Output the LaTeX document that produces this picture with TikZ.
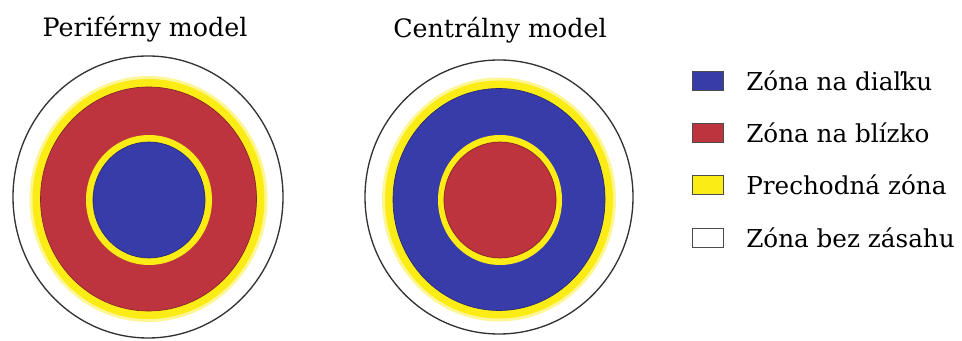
\documentclass[tikz,border=0pt]{standalone}
\usepackage{fontspec}
\setmainfont{DejaVu Serif}
\definecolor{zoneblue}{RGB}{56,60,168}
\definecolor{zonered}{RGB}{190,52,62}
\definecolor{zoneyellow}{RGB}{250,236,20}
\usetikzlibrary{positioning}
\tikzset{
  title/.style={anchor=base, inner sep=0pt, font=\fontsize{19}{21}\selectfont},
  legtext/.style={anchor=base west, inner sep=0pt, font=\fontsize{18.5}{20}\selectfont},
  legbox/.style={draw=black!70, line width=0.7pt, minimum width=23pt, minimum height=14pt, inner sep=0pt, anchor=south west},
  halo/.style={fill=zoneyellow!45},
  ring/.style={fill=zoneyellow},
  edge/.style={line width=0.5pt}
}
\begin{document}
\begin{tikzpicture}[x=0.75pt, y=-0.75pt]
  \useasboundingbox (0,0) rectangle (962,341);
  % Titles
  \node[title] (ptitle) at (145,37) {Periférny model};
  \node[title] (ctitle) at (500,38) {Centrálny model};
  % Peripheral model
  \coordinate (pc) at (148.5,199);
  \coordinate (pin) at (149,200);
  \draw[fill=white, draw=black!80, line width=1pt] (148,197) ellipse [x radius=135, y radius=141];
  \fill[halo] (pc) ellipse [x radius=119, y radius=123];
  \fill[ring] (pc) ellipse [x radius=116, y radius=120];
  \filldraw[fill=zonered, draw=zonered!70!black, edge] (pc) ellipse [x radius=108, y radius=112];
  \fill[ring] (pin) ellipse [x radius=63, y radius=65];
  \filldraw[fill=zoneblue, draw=zoneblue!70!black, edge] (pin) ellipse [x radius=56, y radius=58];
  % Central model
  \coordinate (cc) at (499,199.5);
  \coordinate (cin) at (500,200);
  \draw[fill=white, draw=black!80, line width=1pt] (499,197) ellipse [x radius=134, y radius=137];
  \fill[halo] (cc) ellipse [x radius=117, y radius=122];
  \fill[ring] (cc) ellipse [x radius=114, y radius=119];
  \filldraw[fill=zoneblue, draw=zoneblue!70!black, edge] (cc) ellipse [x radius=106, y radius=111];
  \fill[ring] (cin) ellipse [x radius=62, y radius=65];
  \filldraw[fill=zonered, draw=zonered!70!black, edge] (cin) ellipse [x radius=56, y radius=58];
  % Legend
  \node[legbox, fill=zoneblue] (kfar) at (692,90.5) {};
  \node[legtext] (lfar) at (746,90.5) {Zóna na diaľku};
  \node[legbox, fill=zonered] (knear) at (692,142.5) {};
  \node[legtext] (lnear) at (746,142.5) {Zóna na blízko};
  \node[legbox, fill=zoneyellow] (ktrans) at (692,195) {};
  \node[legtext] (ltrans) at (746,195) {Prechodná zóna};
  \node[legbox, fill=white] (knone) at (692,247.5) {};
  \node[legtext] (lnone) at (746,247.5) {Zóna bez zásahu};
\end{tikzpicture}
\end{document}
